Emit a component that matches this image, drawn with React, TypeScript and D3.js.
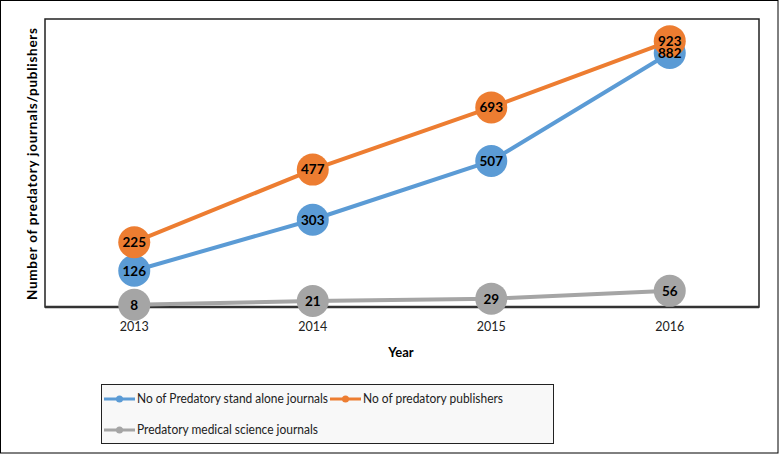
import React from "react";
import * as d3 from "d3";

const years = ["2013", "2014", "2015", "2016"];
const standAlone = [126, 303, 507, 882];
const publishers = [225, 477, 693, 923];
const medical = [8, 21, 29, 56];
const seriesNames = [
  "No of Predatory stand alone journals",
  "No of predatory publishers",
  "Predatory medical science journals",
];
const colors = ["#5B9BD5", "#ED7D31", "#A5A5A5"];

const W = 779;
const H = 454;
const plot = { left: 45, right: 759, top: 19, bottom: 307 };
const FONT = "Lato, 'Open Sans', 'Liberation Sans', sans-serif";

export default function App() {
  const x = d3
    .scalePoint<string>()
    .domain(years)
    .range([plot.left, plot.right])
    .padding(0.5);
  const y = d3.scaleLinear().domain([0, 1000]).range([plot.bottom, plot.top]);
  const series = [standAlone, publishers, medical];
  const line = d3
    .line<number>()
    .x((_, i) => x(years[i]) as number)
    .y((d) => y(d));

  const legendItems = [
    { i: 0, lx: 104, ly: 399, tl: 191 },
    { i: 1, lx: 330, ly: 399, tl: 140 },
    { i: 2, lx: 104, ly: 430, tl: 181 },
  ];

  return (
    <svg
      width={W}
      height={H}
      style={{ position: "absolute", left: 0, top: 0, background: "#fff" }}
      fontFamily={FONT}
    >
      <rect x={0.5} y={0.5} width={W - 1.5} height={H - 1.5} fill="#fff" stroke="#000" strokeWidth={1} />
      {/* plot frame */}
      <rect
        x={plot.left}
        y={plot.top}
        width={plot.right - plot.left}
        height={plot.bottom - plot.top}
        fill="#fff"
        stroke="#222"
        strokeWidth={1.5}
      />
      <line x1={plot.left} x2={plot.right} y1={plot.bottom} y2={plot.bottom} stroke="#333" strokeWidth={2.5} />
      {/* y title */}
      <text
        transform={`translate(37,${(28 + 300) / 2}) rotate(-90)`}
        textAnchor="middle"
        fontSize={13.5}
        fontWeight="bold"
        fill="#000"
        textLength={272}
        lengthAdjust="spacing"
      >
        Number of predatory journals/publishers
      </text>
      {/* x ticks */}
      {years.map((yr) => (
        <text key={yr} x={x(yr)} y={331} textAnchor="middle" fontSize={12.5} fill="#222">
          {yr}
        </text>
      ))}
      <text x={401} y={357} textAnchor="middle" fontSize={13} fontWeight="bold" fill="#000">
        Year
      </text>
      {/* series */}
      {series.map((s, si) => (
        <g key={si}>
          <path d={line(s) as string} fill="none" stroke={colors[si]} strokeWidth={4} />
          {s.map((v, i) => (
            <circle key={i} cx={x(years[i])} cy={y(v)} r={16} fill={colors[si]} />
          ))}
        </g>
      ))}
      {series.map((s, si) =>
        s.map((v, i) => (
          <text
            key={`${si}-${i}`}
            x={x(years[i])}
            y={y(v)}
            dy="0.36em"
            textAnchor="middle"
            fontSize={13.5}
            fontWeight="bold"
            fill="#000"
          >
            {v}
          </text>
        ))
      )}
      {/* legend */}
      <rect x={101.5} y={384.5} width={452} height={59} fill="#f8f8f8" stroke="#222" strokeWidth={1} />
      {legendItems.map(({ i, lx, ly, tl }) => (
        <g key={i}>
          <line x1={lx} x2={lx + 31} y1={ly} y2={ly} stroke={colors[i]} strokeWidth={3} />
          <circle cx={lx + 15.5} cy={ly} r={3.5} fill={colors[i]} />
          <text
            x={lx + 33}
            y={ly}
            dy="0.35em"
            fontSize={12.5}
            fill="#222"
            textLength={tl}
            lengthAdjust="spacingAndGlyphs"
          >
            {seriesNames[i]}
          </text>
        </g>
      ))}
    </svg>
  );
}
